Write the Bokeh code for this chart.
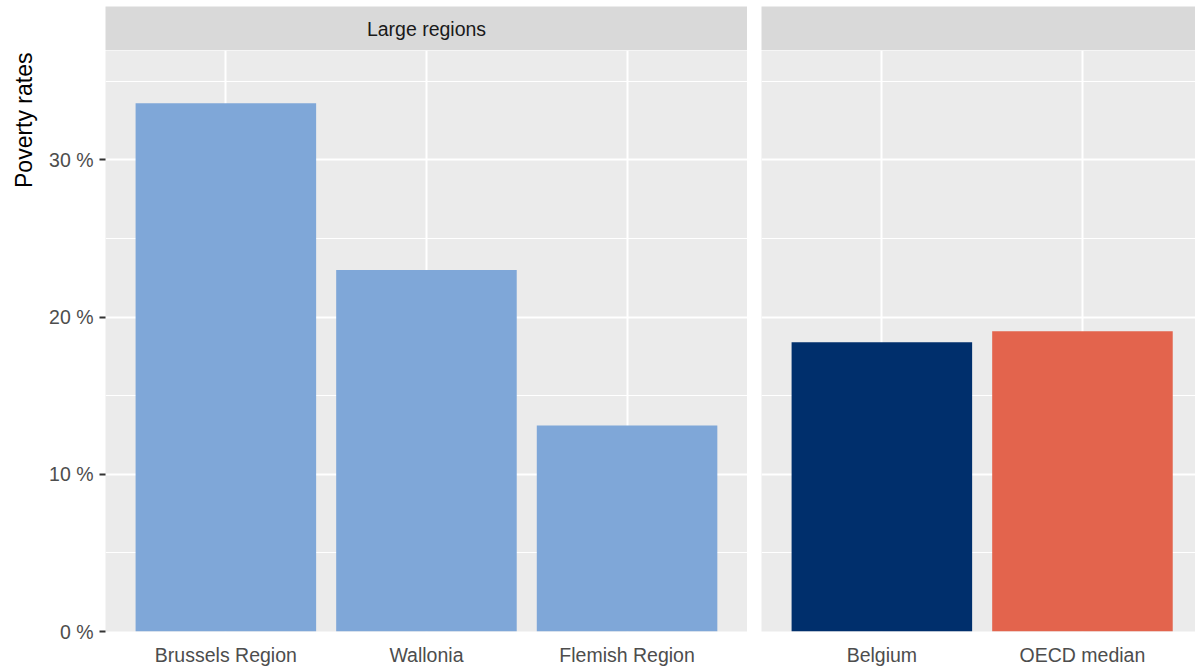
import math
from bokeh.plotting import figure
from bokeh.layouts import row, column
from bokeh.models import Range1d, FixedTicker, Label
from bokeh.core.properties import value
from bokeh.embed import file_html
from bokeh.resources import INLINE

# ---- data ----
regions = ["Brussels Region", "Wallonia", "Flemish Region"]
region_rates = [33.6, 23.0, 13.1]
region_colors = ["#7FA7D8", "#7FA7D8", "#7FA7D8"]
benchmarks = ["Belgium", "OECD median"]
benchmark_rates = [18.4, 19.1]
benchmark_colors = ["#002F6C", "#E3644D"]
facet_labels = ["Large regions", ""]
y_ticks = [0, 10, 20, 30]
y_minor = [5, 15, 25, 35]
y_tick_labels = ["0 %", "10 %", "20 %", "30 %"]
y_title = "Poverty rates"

FONT = "Liberation Sans"
PANEL_BG = "#EBEBEB"
STRIP_BG = "#D9D9D9"
PX_PER_UNIT = 200.6
Y_MAX = max(region_rates + benchmark_rates) * 1.1
FRAME_H = 581
STRIP_TOP = 6
STRIP_H = 44
LEFT_W = 642
RIGHT_W = 434
TITLE_W = 42
LEFT_BORDER = 63
GAP = 14
BOTTOM = 39


def make_panel(cats, vals, colors, frame_w, border_left, with_yaxis):
    pos = list(range(1, len(cats) + 1))
    x_end = 0.4 + frame_w / PX_PER_UNIT
    p = figure(width=border_left + frame_w, height=FRAME_H + BOTTOM,
               x_range=Range1d(0.4, x_end), y_range=Range1d(0, Y_MAX),
               output_backend="svg", toolbar_location=None,
               y_axis_location="left" if with_yaxis else None,
               min_border_left=border_left, min_border_right=0,
               min_border_top=0, min_border_bottom=BOTTOM)
    p.background_fill_color = PANEL_BG
    p.border_fill_color = "white"
    p.outline_line_color = None
    p.vbar(x=pos, top=vals, bottom=0, width=0.9, fill_color=colors, line_color=None)

    p.xgrid.ticker = FixedTicker(ticks=pos)
    p.xgrid.grid_line_color = "white"
    p.xgrid.grid_line_width = 2
    p.ygrid.ticker = FixedTicker(ticks=y_ticks, minor_ticks=y_minor)
    p.ygrid.grid_line_color = "white"
    p.ygrid.grid_line_width = 2
    p.ygrid.minor_grid_line_color = "white"
    p.ygrid.minor_grid_line_width = 1
    p.grid.level = "underlay"

    xa = p.xaxis[0]
    xa.ticker = FixedTicker(ticks=pos)
    xa.major_label_overrides = {i: c for i, c in zip(pos, cats)}
    xa.axis_line_color = None
    xa.major_tick_out = 0
    xa.major_tick_in = 0
    xa.minor_tick_out = 0
    xa.minor_tick_in = 0
    xa.major_label_standoff = 12
    xa.major_label_text_font = FONT
    xa.major_label_text_font_size = "19.5px"
    xa.major_label_text_color = "#4D4D4D"

    if with_yaxis:
        ya = p.yaxis[0]
        ya.ticker = FixedTicker(ticks=y_ticks)
        ya.major_label_overrides = {t: l for t, l in zip(y_ticks, y_tick_labels)}
        ya.axis_line_color = None
        ya.major_tick_out = 6
        ya.major_tick_in = 0
        ya.major_tick_line_color = "#333333"
        ya.major_tick_line_width = 2
        ya.minor_tick_out = 0
        ya.minor_tick_in = 0
        ya.major_label_standoff = 6
        ya.major_label_text_font = FONT
        ya.major_label_text_font_size = "19.5px"
        ya.major_label_text_color = "#4D4D4D"
    return p


def make_strip(label, frame_w, border_left):
    s = figure(width=border_left + frame_w, height=STRIP_TOP + STRIP_H,
               x_range=Range1d(0, 1), y_range=Range1d(0, 1),
               output_backend="svg", toolbar_location=None,
               x_axis_location=None, y_axis_location=None,
               min_border_left=border_left, min_border_right=0,
               min_border_top=STRIP_TOP, min_border_bottom=0)
    s.background_fill_color = STRIP_BG
    s.border_fill_color = "white"
    s.outline_line_color = None
    s.grid.visible = False
    if label:
        s.add_layout(Label(x=0.5, y=0.5, text=label, text_align="center",
                           text_baseline="middle", text_font=FONT,
                           text_font_size="19.5px", text_color="#1A1A1A"))
    return s


# y-axis title column (aligned to the top of the panel, like ggplot hjust=1)
t = figure(width=TITLE_W, height=STRIP_TOP + STRIP_H + FRAME_H + BOTTOM,
           x_range=Range1d(0, 1), y_range=Range1d(0, Y_MAX),
           output_backend="svg", toolbar_location=None,
           x_axis_location=None, y_axis_location=None,
           min_border_left=0, min_border_right=0,
           min_border_top=STRIP_TOP + STRIP_H, min_border_bottom=BOTTOM)
t.background_fill_color = "white"
t.border_fill_color = "white"
t.outline_line_color = None
t.grid.visible = False
t.text(x=[0.5], y=[Y_MAX], text=[y_title], angle=math.pi / 2,
       text_align="right", text_baseline="middle", x_offset=2, y_offset=2,
       text_font=value(FONT), text_font_size="23px", text_color="black")

p1 = make_panel(regions, region_rates, region_colors, LEFT_W, LEFT_BORDER, True)
p2 = make_panel(benchmarks, benchmark_rates, benchmark_colors, RIGHT_W, GAP, False)
s1 = make_strip(facet_labels[0], LEFT_W, LEFT_BORDER)
s2 = make_strip(facet_labels[1], RIGHT_W, GAP)

layout = row(t, column(s1, p1), column(s2, p2))
open("out.html", "w").write(file_html(layout, INLINE))
